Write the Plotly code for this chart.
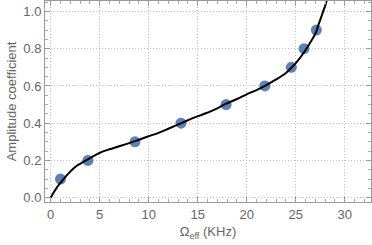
import plotly.graph_objects as go

# Data points
omega_pts = [1.0, 3.8, 8.6, 13.3, 17.9, 21.85, 24.55, 25.85, 27.1]
amp_pts = [0.10, 0.20, 0.30, 0.40, 0.50, 0.60, 0.70, 0.80, 0.90]

# Fit curve
omega_fit = [0, 0.5, 1.0, 1.5, 2.0, 2.5, 3.0, 3.8, 5.0, 6.0, 7.0, 8.6, 10.0, 11.0, 12.0, 13.4,
             14.5, 15.75, 17.0, 17.8, 19.0, 20.0, 21.0, 22.0, 23.0, 24.0, 24.6, 25.2,
             25.9, 26.5, 27.0, 27.3, 27.7, 28.0, 28.2]
amp_fit = [0.0, 0.045, 0.08, 0.112, 0.14, 0.165, 0.182, 0.206, 0.241, 0.26, 0.276, 0.304, 0.33, 0.348,
           0.37, 0.402, 0.427, 0.452, 0.48, 0.502, 0.53, 0.555, 0.578, 0.605, 0.635, 0.67, 0.70,
           0.735, 0.785, 0.835, 0.88, 0.925, 0.985, 1.03, 1.065]

x_ticks = [0, 5, 10, 15, 20, 25, 30]
y_ticks = [0.0, 0.2, 0.4, 0.6, 0.8, 1.0]
y_labels = ["0.0", "0.2", "0.4", "0.6", "0.8", "1.0"]

gray = "#666666"
fig = go.Figure()
fig.add_trace(go.Scatter(x=omega_pts, y=amp_pts, mode="markers",
                         marker=dict(color="#5E81B5", size=11, line=dict(width=0)),
                         showlegend=False))
fig.add_trace(go.Scatter(x=omega_fit, y=amp_fit, mode="lines", line=dict(color="black", width=2, shape="spline"),
                         showlegend=False))

fig.update_layout(
    width=372, height=245,
    margin=dict(l=45, r=1, t=1, b=43),
    paper_bgcolor="white", plot_bgcolor="white",
    font=dict(family="Liberation Sans, Arial, sans-serif", size=13, color=gray),
    xaxis=dict(range=[-0.58, 32.68], tickvals=x_ticks, ticks="inside", ticklen=5, tickcolor="#999999",
               showline=True, linecolor="#999999", linewidth=1, mirror="allticks", automargin=False,
               showgrid=True, gridcolor="#c0c0c0", griddash="1px,2px", gridwidth=1, zeroline=False,
               minor=dict(dtick=1, tick0=0, ticks="inside", ticklen=3, tickcolor="#aaaaaa", showgrid=False),
               title=dict(text="Ω<sub>eff</sub> (KHz)", standoff=6, font=dict(size=13, color=gray)),
               tickfont=dict(size=13, color=gray)),
    yaxis=dict(range=[-0.023, 1.056], tickvals=y_ticks, ticktext=y_labels, ticks="inside", ticklen=5,
               tickcolor="#999999", automargin=False,
               showline=True, linecolor="#999999", linewidth=1, mirror="allticks",
               showgrid=True, gridcolor="#c0c0c0", griddash="1px,2px", gridwidth=1, zeroline=False,
               minor=dict(dtick=0.05, tick0=0, ticks="inside", ticklen=3, tickcolor="#aaaaaa", showgrid=False),
               title=dict(text="Amplitude coefficient", standoff=3, font=dict(size=13, color=gray)),
               tickfont=dict(size=13, color=gray)),
)
fig.write_html("out.html", config={"displayModeBar": False},
               post_script="document.body.style.margin='0';document.body.style.overflow='hidden';")
